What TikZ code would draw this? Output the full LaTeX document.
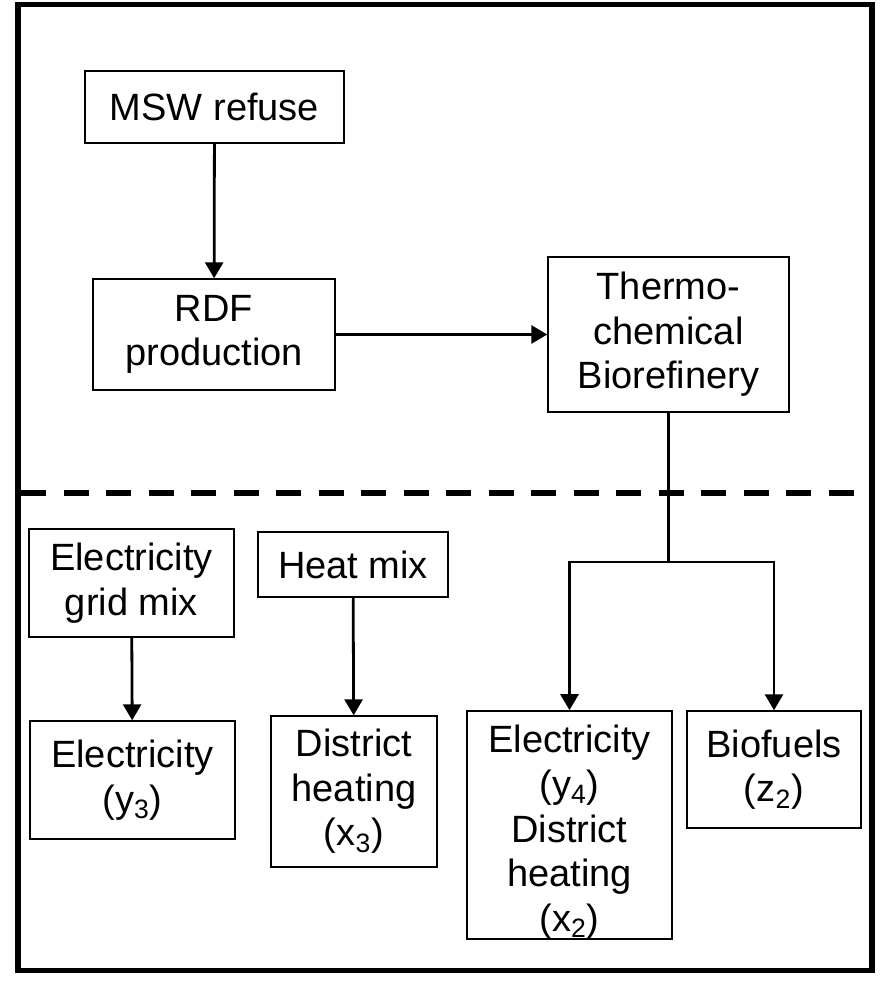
\documentclass[tikz,border=0pt]{standalone}
\usepackage{fontspec}
\setmainfont{Liberation Sans}
\usepackage{tikz}
\usetikzlibrary{arrows.meta,calc,positioning}

\begin{document}
\begin{tikzpicture}[x=0.5pt, y=-0.5pt,
  box/.style={draw, line width=0.7pt, align=center, inner sep=0pt, font=\fontsize{19}{22.3}\selectfont},
  flow/.style={line width=1.4pt, >={Triangle[length=8pt, width=9pt]}}]
\useasboundingbox (0,0) rectangle (880,988);

% frame and system boundary
\draw[line width=2.75pt] (18,4.5) rectangle (872,970.5);
\draw[line width=3pt, dash pattern=on 12.5pt off 8.75pt] (21,493) -- (869,493);

\node[box, minimum width=129.5pt, minimum height=36pt](msw) at (214.5,107) {MSW refuse};
\node[box, minimum width=121pt, minimum height=55.5pt](rdf) at (214,334.5) {RDF\\production};
\node[box, minimum width=120.5pt, minimum height=77.5pt](bio) at (668.5,334.5) {Thermo-\\chemical\\Biorefinery};

\node[box, minimum width=102.5pt, minimum height=54pt](grid) at (131.5,583) {Electricity\\grid mix};
\node[box, minimum width=95pt, minimum height=32.5pt](heat) at (353,564.5) {Heat mix};
\node[box, minimum width=102.5pt, minimum height=59pt](elec) at (132.5,780) {Electricity\\(y\textsubscript{3})};
\node[box, minimum width=83pt, minimum height=75.5pt](dh) at (354,791.5) {District\\heating\\(x\textsubscript{3})};
\node[box, minimum width=102.5pt, minimum height=114pt](both) at (569.5,825) {\rule{0pt}{21pt}Electricity\\(y\textsubscript{4})\\District\\heating\\(x\textsubscript{2})};
\node[box, minimum width=87pt, minimum height=58.5pt](fuel) at (774,769.5) {Biofuels\\(z\textsubscript{2})};

\coordinate(split) at (668.5,562);

\draw[->, flow] (msw) -- (rdf);
\draw[->, flow] (rdf) -- (bio);
\draw[flow] (bio) -- (split);
\draw[->, flow] (split) -| (both.north);
\draw[->, flow] (split) -| (fuel.north);
\draw[->, flow] (grid) -- (elec);
\draw[->, flow] (heat) -- (dh);
\end{tikzpicture}
\end{document}
